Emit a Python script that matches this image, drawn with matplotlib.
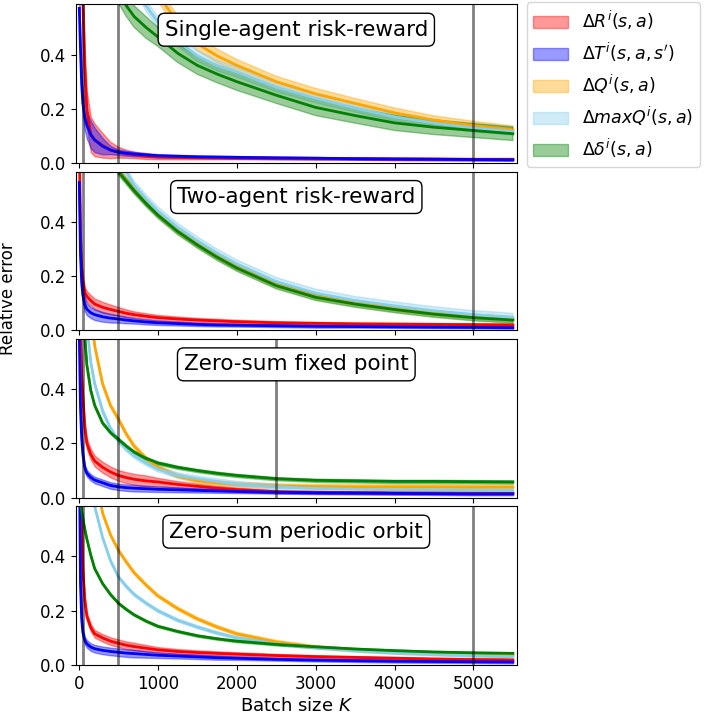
import matplotlib
matplotlib.use("Agg")
import numpy as np
import matplotlib.pyplot as plt

K = [5, 20, 35, 50, 75, 100, 150, 200, 300, 400, 500, 600, 700, 850, 1000, 1250, 1500, 1750,
     2000, 2500, 3000, 3500, 4000, 4500, 5000, 5500]

titles = ["Single-agent risk-reward", "Two-agent risk-reward",
          "Zero-sum fixed point", "Zero-sum periodic orbit"]
vlines = [[50, 500, 5000], [50, 500, 5000], [50, 500, 2500], [50, 500, 5000]]

labels = [r"$\Delta R^i(s,a)$", r"$\Delta T^i(s,a,s')$", r"$\Delta Q^i(s,a)$",
          r"$\Delta maxQ^i(s,a)$", r"$\Delta\delta^i(s,a)$"]
colors = ["red", "blue", "orange", "skyblue", "green"]

# --- single-agent risk-reward
R1 = [1.2, 1.0, 0.8, 0.6, 0.35, 0.2, 0.105, 0.085, 0.065, 0.048, 0.04, 0.034, 0.03, 0.025, 0.022,
      0.021, 0.02, 0.0195, 0.019, 0.018, 0.017, 0.016, 0.015, 0.015, 0.014, 0.014]
R1_sd = [0.05, 0.05, 0.05, 0.06, 0.06, 0.065, 0.065, 0.06, 0.045, 0.03, 0.02, 0.015, 0.012, 0.01,
         0.008, 0.007, 0.006, 0.0055, 0.005, 0.005, 0.005, 0.004, 0.004, 0.004, 0.004, 0.004]
T1 = [0.57, 0.42, 0.29, 0.22, 0.17, 0.14, 0.105, 0.085, 0.062, 0.048, 0.04, 0.036, 0.033, 0.03,
      0.027, 0.025, 0.023, 0.022, 0.021, 0.019, 0.018, 0.016, 0.015, 0.014, 0.013, 0.012]
T1_sd = [0.02, 0.03, 0.04, 0.05, 0.05, 0.05, 0.05, 0.045, 0.03, 0.015, 0.01, 0.009, 0.008, 0.007,
         0.006, 0.0055, 0.005, 0.005, 0.005, 0.004, 0.004, 0.004, 0.004, 0.004, 0.004, 0.004]
Q1 = [3, 3, 3, 3, 3, 3, 3, 2.5, 1.8, 1.3, 1.0, 0.89, 0.8, 0.7, 0.62, 0.52, 0.44, 0.395,
      0.36, 0.30, 0.255, 0.22, 0.185, 0.158, 0.138, 0.122]
Q1_sd = [0.025] * 18 + [0.022, 0.02, 0.02, 0.018, 0.018, 0.016, 0.016, 0.015]
M1 = [3, 3, 3, 3, 3, 3, 3, 2.2, 1.5, 1.1, 0.85, 0.75, 0.66, 0.58, 0.52, 0.45, 0.395, 0.36,
      0.335, 0.28, 0.238, 0.203, 0.17, 0.147, 0.129, 0.116]
M1_sd = [0.02] * 18 + [0.018, 0.017, 0.016, 0.015, 0.015, 0.014, 0.014, 0.013]
D1 = [3, 3, 3, 3, 3, 2.5, 1.8, 1.4, 1.0, 0.75, 0.63, 0.58, 0.54, 0.50, 0.465, 0.405, 0.36, 0.328,
      0.30, 0.25, 0.205, 0.175, 0.148, 0.132, 0.12, 0.108]
D1_sd = [0.04] * 14 + [0.035, 0.034, 0.033, 0.032, 0.032, 0.03, 0.03, 0.028, 0.028, 0.027, 0.026, 0.025]

# --- two-agent risk-reward
R2 = [0.7, 0.35, 0.23, 0.18, 0.14, 0.125, 0.11, 0.097, 0.085, 0.077, 0.07, 0.063, 0.058, 0.052,
      0.047, 0.042, 0.038, 0.035, 0.032, 0.028, 0.026, 0.024, 0.023, 0.022, 0.021, 0.02]
R2_sd = [0.03, 0.03, 0.025, 0.025, 0.02, 0.02, 0.02, 0.02, 0.02, 0.018, 0.016, 0.014, 0.012, 0.011,
         0.01, 0.009, 0.008, 0.0075, 0.007, 0.006, 0.005, 0.005, 0.005, 0.005, 0.005, 0.005]
T2 = [0.545, 0.28, 0.176, 0.13, 0.095, 0.078, 0.065, 0.058, 0.05, 0.045, 0.042, 0.038, 0.035, 0.031,
      0.028, 0.025, 0.022, 0.02, 0.019, 0.017, 0.015, 0.014, 0.013, 0.012, 0.011, 0.01]
T2_sd = [0.03, 0.03, 0.03, 0.03, 0.025, 0.022, 0.02, 0.02, 0.018, 0.016, 0.014, 0.012, 0.01, 0.009,
         0.008, 0.007, 0.006, 0.0055, 0.005, 0.005, 0.005, 0.004, 0.004, 0.004, 0.004, 0.004]
Q2 = [3, 3, 3, 3, 3, 2.5, 1.8, 1.4, 1.0, 0.753, 0.588, 0.553, 0.518, 0.471, 0.428, 0.368, 0.318,
      0.273, 0.233, 0.168, 0.125, 0.1, 0.08, 0.063, 0.05, 0.041]
Q2_sd = [0.01] * 26
M2 = [3, 3, 3, 3, 3, 2.6, 1.9, 1.5, 1.05, 0.8, 0.62, 0.585, 0.535, 0.485, 0.44, 0.38, 0.33,
      0.285, 0.245, 0.18, 0.137, 0.11, 0.09, 0.072, 0.058, 0.048]
M2_sd = [0.015] * 26
D2 = [3, 3, 3, 3, 3, 2.5, 1.8, 1.4, 1.0, 0.75, 0.585, 0.55, 0.515, 0.468, 0.425, 0.365, 0.315,
      0.27, 0.23, 0.165, 0.122, 0.097, 0.077, 0.06, 0.047, 0.038]
D2_sd = [0.012] * 26

# --- zero-sum fixed point
R3 = [1.0, 0.6, 0.45, 0.37, 0.26, 0.2, 0.16, 0.135, 0.112, 0.095, 0.082, 0.074, 0.068, 0.062,
      0.058, 0.049, 0.042, 0.035, 0.03, 0.022, 0.02, 0.019, 0.018, 0.018, 0.017, 0.017]
R3_sd = [0.02] * 14 + [0.015, 0.012, 0.01, 0.009, 0.008, 0.006, 0.005, 0.005, 0.005, 0.005, 0.005, 0.005]
T3 = [0.6, 0.33, 0.22, 0.16, 0.11, 0.09, 0.075, 0.065, 0.055, 0.045, 0.04, 0.037, 0.035, 0.033,
      0.031, 0.029, 0.027, 0.025, 0.023, 0.02, 0.018, 0.017, 0.016, 0.015, 0.014, 0.014]
T3_sd = [0.012] * 13 + [0.011, 0.01, 0.009, 0.008, 0.007, 0.006, 0.005, 0.005, 0.005, 0.005, 0.005, 0.005, 0.005]
Q3 = [3, 3, 3, 3, 2, 1.2, 0.7, 0.56, 0.42, 0.34, 0.29, 0.235, 0.19, 0.145, 0.112, 0.08, 0.062,
      0.054, 0.049, 0.043, 0.041, 0.04, 0.04, 0.04, 0.039, 0.039]
Q3_sd = [0.008] * 26
M3 = [3, 3, 3, 1.5, 0.9, 0.64, 0.5, 0.42, 0.32, 0.255, 0.21, 0.18, 0.155, 0.128, 0.105, 0.082,
      0.07, 0.06, 0.05, 0.04, 0.034, 0.031, 0.029, 0.028, 0.027, 0.026]
M3_sd = [0.01] * 26
D3 = [2.0, 1.2, 0.85, 0.7, 0.59, 0.49, 0.395, 0.34, 0.275, 0.24, 0.215, 0.19, 0.168, 0.145, 0.128,
      0.112, 0.1, 0.09, 0.082, 0.07, 0.064, 0.062, 0.06, 0.06, 0.059, 0.058]
D3_sd = [0.006] * 26

# --- zero-sum periodic orbit
R4 = [1.5, 0.8, 0.55, 0.35, 0.24, 0.18, 0.138, 0.115, 0.1, 0.088, 0.08, 0.073, 0.068, 0.062,
      0.056, 0.05, 0.046, 0.043, 0.04, 0.035, 0.031, 0.028, 0.025, 0.022, 0.02, 0.019]
R4_sd = [0.014] * 13 + [0.012, 0.01, 0.009, 0.008, 0.0075, 0.007, 0.006, 0.005, 0.005, 0.005, 0.005, 0.005, 0.005]
T4 = [0.8, 0.3, 0.17, 0.12, 0.09, 0.078, 0.066, 0.06, 0.054, 0.05, 0.047, 0.044, 0.042, 0.039,
      0.036, 0.033, 0.03, 0.027, 0.025, 0.021, 0.018, 0.016, 0.014, 0.013, 0.012, 0.011]
T4_sd = [0.014] * 13 + [0.012, 0.01, 0.009, 0.008, 0.0075, 0.006, 0.005, 0.005, 0.005, 0.005, 0.005, 0.005, 0.005]
Q4 = [3, 3, 3, 3, 3, 2, 1.0, 0.72, 0.56, 0.48, 0.423, 0.38, 0.34, 0.295, 0.255, 0.208, 0.17,
      0.14, 0.115, 0.085, 0.066, 0.054, 0.046, 0.041, 0.038, 0.036]
Q4_sd = [0.006] * 26
M4 = [3, 3, 3, 2, 1.2, 0.9, 0.68, 0.585, 0.47, 0.385, 0.325, 0.29, 0.26, 0.228, 0.2, 0.165, 0.14,
      0.118, 0.1, 0.078, 0.064, 0.053, 0.045, 0.039, 0.034, 0.03]
M4_sd = [0.006] * 26
D4 = [0.9, 0.6, 0.57, 0.54, 0.5, 0.465, 0.405, 0.355, 0.3, 0.26, 0.228, 0.205, 0.185, 0.162, 0.143,
      0.124, 0.108, 0.097, 0.088, 0.076, 0.067, 0.059, 0.053, 0.048, 0.045, 0.043]
D4_sd = [0.004] * 26

panels = [
    [(R1, R1_sd), (T1, T1_sd), (Q1, Q1_sd), (M1, M1_sd), (D1, D1_sd)],
    [(R2, R2_sd), (T2, T2_sd), (Q2, Q2_sd), (M2, M2_sd), (D2, D2_sd)],
    [(R3, R3_sd), (T3, T3_sd), (Q3, Q3_sd), (M3, M3_sd), (D3, D3_sd)],
    [(R4, R4_sd), (T4, T4_sd), (Q4, Q4_sd), (M4, M4_sd), (D4, D4_sd)],
]

fig, axes = plt.subplots(4, 1, sharex=True, figsize=(7.08, 7.17), dpi=100)
fig.subplots_adjust(left=0.107, right=0.730, top=0.994, bottom=0.0725, hspace=0.054)

x = np.array(K)
handles = []
for p, ax in enumerate(axes):
    for s, (mean, sd) in enumerate(panels[p]):
        m = np.array(mean)
        d = np.array(sd)
        h = ax.fill_between(x, m - d, m + d, color=colors[s], alpha=0.4, label=labels[s])
        ax.plot(x, m, color=colors[s], lw=2)
        if p == 0:
            handles.append(h)
    for v in vlines[p]:
        ax.axvline(v, color="k", alpha=0.5, lw=2, zorder=5)
    ax.set_ylim(0, 0.585)
    ax.set_xlim(-40, 5550)
    ax.set_yticks([0.0, 0.2, 0.4])
    ax.tick_params(labelsize=12)
    ax.text(0.5, 0.84, titles[p], transform=ax.transAxes, ha="center", va="center",
            fontsize=15.5, zorder=10,
            bbox=dict(boxstyle="round,pad=0.3", facecolor="white", edgecolor="black"))

axes[-1].set_xticks([0, 1000, 2000, 3000, 4000, 5000])
axes[-1].set_xlabel("Batch size $K$", fontsize=13, labelpad=3)
fig.text(0.011, 0.583, "Relative error", rotation=90, ha="center", va="center", fontsize=12)

axes[0].legend(handles=handles, loc="upper left", bbox_to_anchor=(1.022, 1.013),
               fontsize=12.5, borderaxespad=0.0)

fig.savefig("out.png", dpi=100)
